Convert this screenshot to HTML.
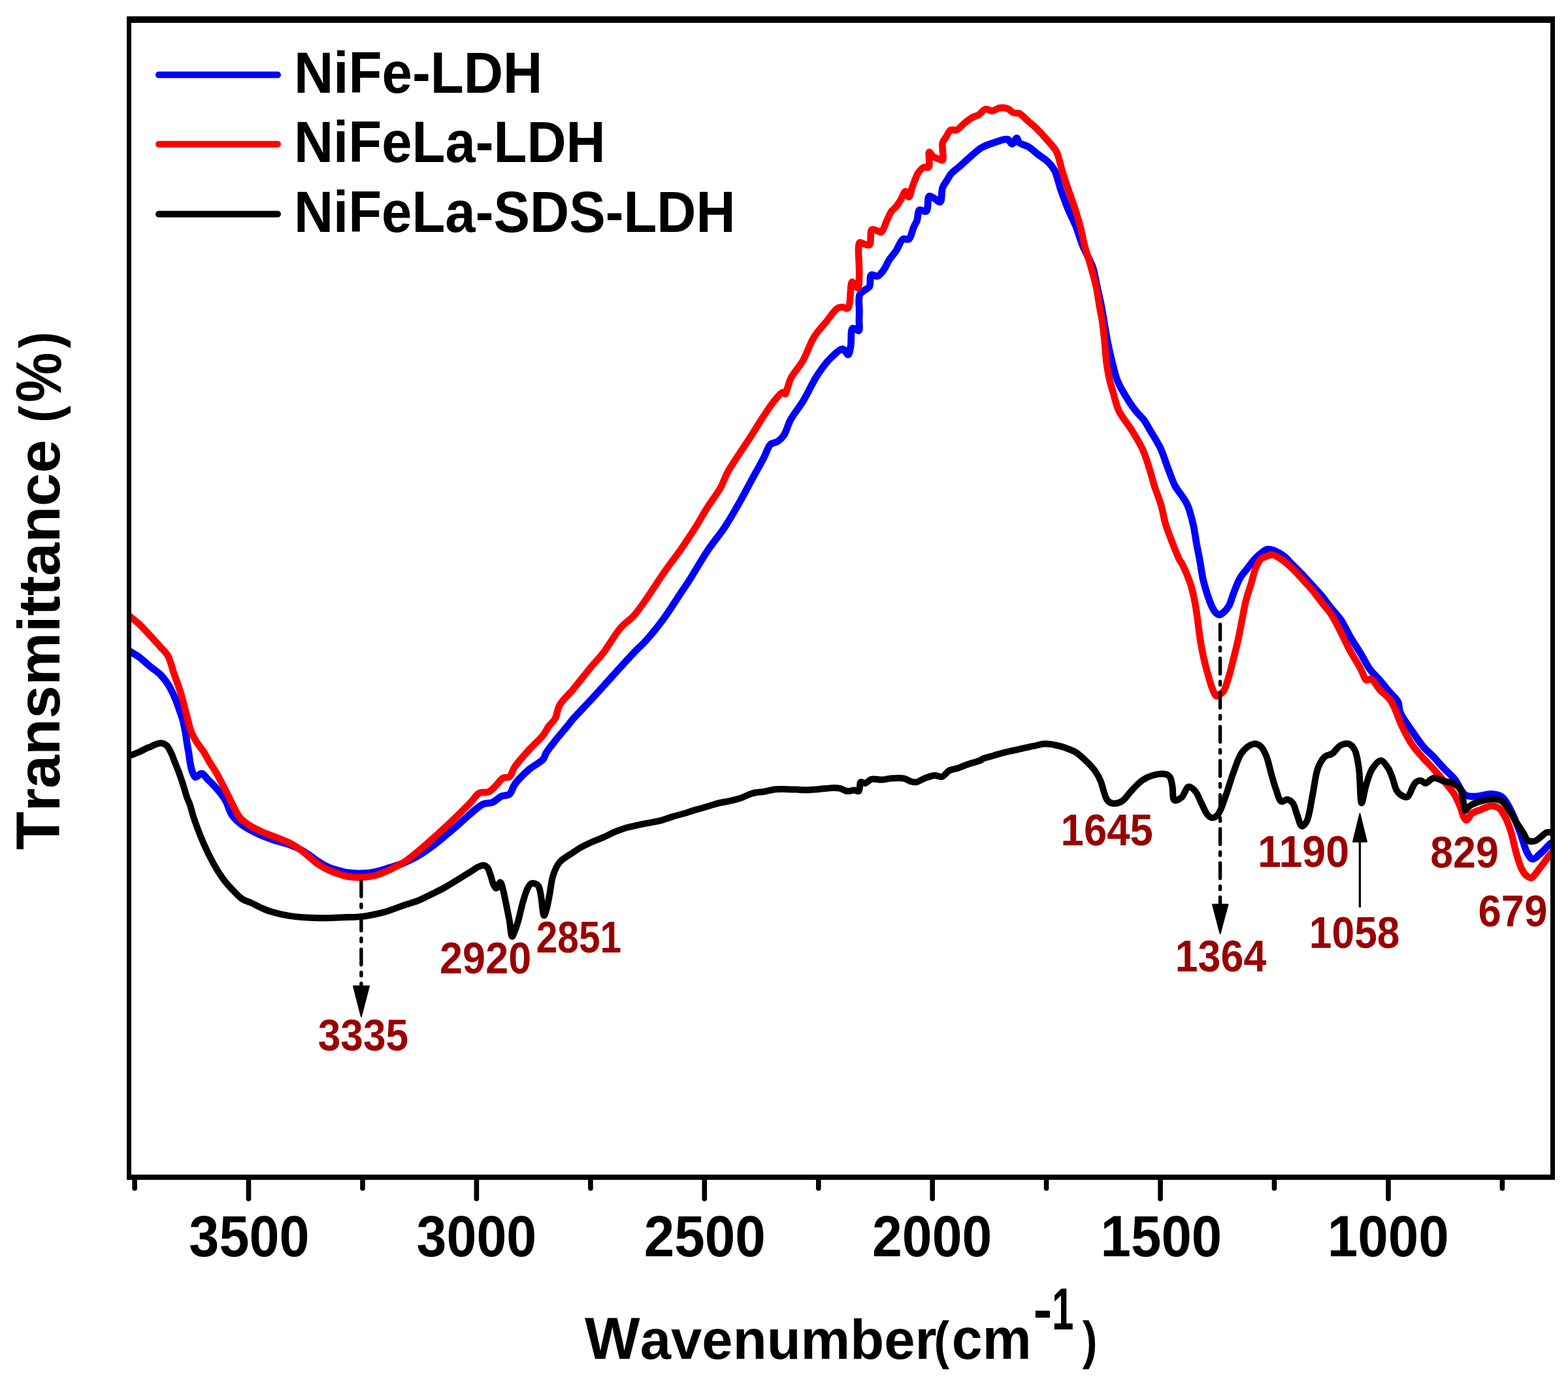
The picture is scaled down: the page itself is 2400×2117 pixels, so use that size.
<!DOCTYPE html>
<html><head><meta charset="utf-8"><title>FTIR spectra</title>
<style>html,body{margin:0;padding:0;background:#fff;}svg{display:block;}</style>
</head><body>
<svg width="2400" height="2117" viewBox="0 0 2400 2117">
<rect width="100%" height="100%" fill="#fff"/>
<defs><clipPath id="pc"><rect x="197" y="30" width="2180" height="1772"/></clipPath></defs>
<g clip-path="url(#pc)" fill="none" stroke-width="10" stroke-linejoin="round" stroke-linecap="round">
<path stroke="#0000ff" stroke-width="10.8" d="M198.5,996.9 C203.2,999.8 207.8,1002.2 212.6,1005.7 C218.1,1009.7 223.7,1015.2 229.3,1019.8 C234.8,1024.3 241.1,1028.2 245.9,1033.1 C250.4,1037.7 254.0,1042.4 257.6,1048.1 C261.6,1054.5 265.5,1063.0 268.4,1069.8 C270.9,1075.6 272.6,1080.9 274.5,1086.4 C276.4,1091.9 278.5,1097.4 280.0,1103.0 C281.5,1108.6 282.5,1114.1 283.6,1120.0 C284.8,1126.4 285.6,1134.0 286.6,1140.0 C287.4,1144.9 288.3,1148.9 289.0,1153.3 C289.7,1157.7 290.1,1162.2 290.9,1166.6 C291.7,1171.0 292.5,1175.9 293.9,1179.9 C295.1,1183.4 296.7,1188.8 298.6,1189.5 C299.9,1190.0 301.6,1188.3 303.0,1187.5 C304.4,1186.7 305.7,1184.9 307.0,1184.5 C308.0,1184.2 308.9,1184.0 310.0,1184.5 C311.9,1185.3 313.9,1188.6 316.6,1191.4 C320.7,1195.7 327.4,1202.1 332.1,1207.7 C336.6,1213.0 340.8,1217.8 344.5,1224.0 C348.7,1231.0 350.7,1241.4 355.4,1248.1 C359.7,1254.1 364.9,1258.5 370.9,1262.9 C377.6,1267.9 386.1,1272.2 394.2,1276.0 C402.5,1279.9 411.6,1283.2 420.0,1286.1 C427.8,1288.8 436.0,1290.6 442.7,1293.0 C448.2,1294.9 452.6,1296.6 457.4,1299.0 C462.4,1301.5 467.3,1304.8 472.1,1308.0 C477.1,1311.3 481.8,1315.3 486.8,1318.5 C491.6,1321.6 496.5,1324.7 501.5,1327.0 C506.3,1329.2 511.2,1330.6 516.1,1332.0 C521.0,1333.4 525.4,1334.7 530.8,1335.5 C537.4,1336.5 545.5,1337.2 552.8,1337.0 C560.1,1336.8 567.5,1336.0 574.8,1334.5 C582.2,1333.0 589.6,1330.3 596.9,1328.0 C604.3,1325.7 611.7,1323.5 618.9,1320.5 C626.1,1317.5 633.2,1313.9 640.0,1310.0 C646.9,1306.0 653.4,1301.5 660.0,1296.7 C666.8,1291.8 673.4,1286.2 680.0,1280.7 C686.7,1275.2 693.3,1269.5 699.9,1263.7 C706.6,1257.8 713.1,1251.4 719.9,1245.8 C726.4,1240.4 733.4,1233.6 739.8,1230.8 C744.6,1228.7 749.3,1230.0 753.8,1228.2 C758.7,1226.2 763.1,1220.9 767.8,1218.8 C771.8,1217.0 776.6,1218.3 779.8,1215.8 C783.6,1212.9 784.0,1206.0 787.8,1200.8 C793.0,1193.6 802.1,1184.6 809.7,1177.9 C816.8,1171.7 827.6,1167.0 831.7,1161.9 C834.2,1158.8 833.7,1156.3 835.7,1152.9 C838.8,1147.6 844.5,1140.6 849.7,1134.0 C855.7,1126.4 864.8,1115.9 869.6,1110.0 C872.3,1106.6 873.0,1105.4 875.9,1102.0 C881.7,1095.2 893.7,1083.0 903.2,1072.7 C913.8,1061.2 925.4,1048.2 936.5,1036.0 C947.6,1023.8 960.0,1009.8 969.8,999.5 C977.2,991.7 982.8,987.2 989.7,979.5 C998.2,970.0 1007.8,958.0 1016.4,946.2 C1025.6,933.7 1035.7,917.3 1043.0,906.3 C1048.2,898.5 1051.2,894.3 1056.3,886.3 C1063.7,874.7 1073.8,856.7 1083.0,843.0 C1091.6,830.1 1101.6,818.5 1109.6,806.4 C1117.0,795.2 1123.1,784.5 1129.6,773.1 C1136.4,761.3 1142.9,748.7 1149.5,736.5 C1156.2,724.3 1164.0,710.3 1169.5,699.9 C1173.5,692.3 1175.2,683.9 1179.5,680.0 C1182.5,677.3 1186.7,678.1 1190.0,676.0 C1193.6,673.6 1197.0,670.4 1200.0,666.0 C1204.0,660.1 1205.6,650.7 1210.0,642.7 C1215.2,633.1 1223.6,623.4 1230.0,612.7 C1236.9,601.2 1242.9,587.0 1250.0,576.0 C1256.3,566.2 1262.8,556.7 1270.0,549.5 C1276.3,543.3 1284.9,534.1 1290.0,534.5 C1293.5,534.8 1296.2,543.3 1298.2,542.8 C1300.3,542.3 1301.0,535.1 1302.0,530.0 C1303.5,522.7 1301.8,505.0 1304.8,502.8 C1306.1,501.9 1308.4,503.4 1310.0,504.0 C1311.6,504.6 1313.5,506.8 1314.5,506.2 C1316.3,505.1 1314.9,495.0 1315.0,490.0 C1315.1,485.6 1315.2,482.7 1315.3,477.8 C1315.5,470.6 1313.3,456.8 1315.9,451.1 C1317.5,447.5 1321.1,446.1 1323.7,444.0 C1326.1,442.0 1329.1,441.5 1330.8,438.7 C1333.1,434.8 1330.6,423.1 1333.5,421.0 C1335.7,419.4 1340.3,423.6 1343.3,422.7 C1346.6,421.7 1349.4,417.5 1352.1,413.9 C1355.4,409.5 1357.7,403.0 1361.0,397.9 C1364.2,392.9 1368.3,388.8 1371.7,383.7 C1375.4,378.2 1378.2,368.2 1382.3,365.9 C1385.0,364.4 1388.8,367.5 1391.2,365.9 C1394.7,363.5 1396.0,353.3 1398.3,348.2 C1400.1,344.1 1402.2,341.5 1403.6,337.5 C1405.3,332.8 1404.3,323.5 1407.2,321.5 C1409.6,319.9 1415.3,325.0 1417.8,323.3 C1421.5,320.7 1419.0,301.9 1422.3,300.2 C1424.3,299.2 1427.5,302.4 1430.2,303.8 C1433.1,305.3 1437.0,310.1 1439.1,309.1 C1442.1,307.7 1440.6,293.8 1442.7,287.8 C1444.4,282.9 1447.4,279.3 1449.8,275.4 C1452.1,271.7 1454.0,267.9 1456.9,264.7 C1459.9,261.4 1463.5,259.3 1467.5,255.9 C1472.7,251.4 1479.3,245.0 1485.3,239.9 C1491.1,234.9 1496.8,229.3 1503.0,225.7 C1508.7,222.4 1514.5,220.6 1520.8,218.6 C1527.5,216.4 1537.1,211.9 1542.1,213.3 C1545.4,214.2 1546.9,220.5 1549.2,220.4 C1551.6,220.3 1554.4,211.3 1556.3,211.5 C1557.9,211.6 1557.9,216.4 1560.0,218.4 C1563.0,221.2 1569.8,222.1 1574.4,224.9 C1579.4,228.0 1584.0,232.7 1588.8,236.4 C1593.6,240.1 1599.1,243.1 1603.3,247.2 C1607.5,251.3 1611.0,255.2 1614.1,260.9 C1618.1,268.5 1620.1,280.2 1623.4,289.8 C1626.8,299.4 1630.3,309.1 1634.2,318.6 C1638.2,328.3 1643.3,337.7 1647.2,347.4 C1651.0,356.9 1653.3,366.5 1657.3,376.3 C1661.6,386.9 1668.8,398.1 1672.5,408.8 C1675.8,418.5 1676.8,428.1 1679.0,437.7 C1681.1,447.3 1683.5,456.9 1685.4,466.5 C1687.3,476.1 1688.8,485.8 1690.5,495.4 C1692.2,505.0 1693.6,514.6 1695.5,524.2 C1697.4,533.8 1699.6,543.4 1702.0,553.0 C1704.4,562.7 1707.0,574.0 1710.0,581.9 C1712.2,587.7 1713.9,590.6 1717.1,596.3 C1722.1,605.1 1731.7,620.3 1738.2,628.8 C1742.8,634.8 1747.5,638.2 1751.2,643.2 C1754.6,647.9 1756.5,652.0 1759.8,657.7 C1764.5,665.7 1771.8,676.7 1776.4,686.5 C1780.8,695.9 1783.5,705.7 1787.2,715.3 C1790.9,724.9 1794.5,736.3 1798.7,744.1 C1801.9,750.0 1805.6,753.7 1808.8,758.6 C1811.9,763.4 1814.9,767.2 1817.5,773.0 C1820.9,780.8 1823.8,792.1 1826.1,801.8 C1828.4,811.3 1829.5,821.3 1831.2,830.6 C1832.8,839.5 1834.7,848.4 1836.2,856.6 C1837.5,864.0 1838.8,872.5 1839.7,877.7 C1840.2,880.8 1840.3,881.9 1841.0,885.0 C1842.2,890.3 1844.6,899.4 1846.9,906.5 C1849.2,913.7 1852.2,922.6 1854.8,928.1 C1856.5,931.8 1857.9,934.8 1860.0,937.0 C1861.8,938.9 1864.2,941.0 1866.3,941.1 C1868.2,941.2 1870.0,939.6 1872.0,938.0 C1874.8,935.8 1878.2,932.3 1880.7,928.1 C1884.0,922.5 1885.8,913.7 1888.7,906.5 C1891.6,899.3 1894.3,891.2 1898.0,884.9 C1901.2,879.4 1905.2,875.3 1908.9,870.5 C1912.7,865.7 1916.6,860.1 1920.4,856.0 C1923.6,852.5 1926.6,849.5 1930.0,847.0 C1933.3,844.6 1936.3,841.3 1940.5,840.9 C1946.4,840.4 1956.2,845.2 1962.5,849.2 C1968.4,852.9 1972.5,858.6 1977.4,863.4 C1982.4,868.3 1987.5,873.2 1992.4,878.4 C1997.5,883.7 2002.4,889.3 2007.4,894.8 C2012.4,900.3 2017.4,905.5 2022.3,911.3 C2027.4,917.4 2032.2,924.4 2037.3,930.7 C2042.2,936.9 2047.6,941.8 2052.3,948.7 C2057.7,956.6 2062.1,967.0 2067.2,975.7 C2072.1,984.0 2077.3,991.5 2082.2,999.6 C2087.3,1007.9 2091.8,1017.7 2097.2,1025.0 C2101.9,1031.4 2107.3,1035.8 2112.2,1041.5 C2117.2,1047.3 2122.3,1053.8 2127.1,1059.5 C2131.5,1064.7 2137.4,1069.1 2140.0,1074.5 C2142.3,1079.3 2140.6,1084.2 2142.9,1090.0 C2146.3,1098.7 2155.9,1110.9 2162.2,1120.2 C2167.7,1128.3 2172.6,1136.0 2178.3,1142.7 C2183.4,1148.8 2189.1,1153.2 2194.4,1158.8 C2199.8,1164.5 2205.0,1170.8 2210.4,1176.5 C2215.7,1182.1 2221.4,1186.4 2226.5,1192.6 C2232.2,1199.6 2236.2,1212.6 2242.6,1216.7 C2247.4,1219.8 2252.8,1219.2 2258.7,1219.2 C2265.9,1219.2 2275.6,1215.1 2282.8,1215.5 C2288.7,1215.9 2294.4,1216.9 2298.9,1220.0 C2303.7,1223.4 2306.4,1229.3 2310.2,1236.0 C2315.6,1245.6 2321.6,1261.0 2326.3,1273.0 C2330.6,1284.0 2333.3,1297.8 2337.5,1305.2 C2340.0,1309.7 2342.4,1314.5 2345.6,1314.9 C2349.2,1315.4 2354.2,1309.5 2358.4,1306.0 C2363.3,1301.9 2368.8,1294.8 2372.9,1291.5 C2375.6,1289.4 2377.6,1288.5 2380.0,1287.0"/>
<path stroke="#ff0000" stroke-width="10.6" d="M198.5,943.3 C203.2,947.2 207.8,950.5 212.6,954.9 C218.1,960.0 223.8,966.5 229.3,972.4 C234.9,978.4 241.0,985.2 245.9,990.7 C249.9,995.2 253.6,997.9 256.7,1003.2 C260.7,1010.1 262.9,1021.2 265.9,1029.8 C268.7,1037.8 271.9,1046.0 274.2,1053.1 C276.2,1059.1 277.4,1063.3 279.2,1069.8 C281.8,1079.0 285.3,1093.8 287.8,1103.0 C289.6,1109.6 290.3,1114.5 292.5,1120.0 C294.7,1125.6 298.0,1131.1 301.2,1136.3 C304.4,1141.4 308.7,1146.0 311.9,1151.0 C315.0,1155.9 317.3,1161.0 320.3,1166.0 C323.5,1171.3 326.9,1175.8 330.6,1182.1 C335.6,1190.7 342.0,1203.6 346.9,1213.2 C351.1,1221.5 355.0,1229.8 358.5,1236.5 C361.2,1241.6 362.8,1245.9 366.0,1250.0 C369.4,1254.3 373.6,1257.7 378.7,1261.3 C385.1,1265.7 394.6,1270.3 402.0,1273.7 C408.3,1276.6 413.7,1278.2 420.0,1280.7 C427.1,1283.6 436.1,1286.8 442.7,1290.1 C448.2,1292.9 452.6,1295.6 457.4,1298.9 C462.4,1302.4 467.2,1306.6 472.1,1310.6 C477.0,1314.6 481.8,1319.2 486.8,1322.7 C491.6,1326.0 496.5,1328.8 501.5,1331.2 C506.3,1333.5 511.2,1335.3 516.1,1337.0 C521.0,1338.7 525.3,1340.5 530.8,1341.5 C537.3,1342.7 545.5,1343.4 552.8,1343.2 C560.1,1343.0 567.6,1341.9 574.8,1340.0 C582.3,1338.0 589.6,1334.6 596.9,1331.2 C604.3,1327.7 611.8,1324.0 618.9,1319.4 C626.2,1314.6 633.1,1308.6 640.0,1303.0 C646.8,1297.4 653.4,1291.6 660.0,1285.7 C666.7,1279.8 673.4,1273.8 680.0,1267.7 C686.7,1261.5 693.3,1255.2 699.9,1248.8 C706.6,1242.3 713.9,1235.0 719.9,1228.8 C725.0,1223.5 728.7,1216.4 733.9,1213.8 C738.2,1211.6 743.6,1214.1 747.8,1212.2 C752.3,1210.2 756.1,1205.4 759.8,1201.8 C763.4,1198.3 766.1,1193.0 769.8,1190.9 C772.9,1189.2 777.0,1191.0 779.8,1188.9 C783.4,1186.2 784.1,1179.4 787.8,1173.9 C793.0,1166.2 802.3,1156.2 809.7,1147.9 C816.9,1139.9 826.4,1131.8 831.7,1125.0 C835.4,1120.3 836.7,1116.1 839.7,1112.0 C842.7,1107.8 847.0,1104.8 849.7,1100.0 C852.9,1094.3 852.8,1086.1 856.6,1079.4 C861.1,1071.4 869.5,1064.5 876.6,1056.0 C884.9,1046.0 894.9,1032.8 903.2,1022.8 C910.3,1014.3 916.3,1008.4 923.2,999.5 C931.7,988.5 941.0,971.3 949.8,961.2 C956.5,953.5 963.5,949.9 969.8,942.9 C976.8,935.1 982.7,926.1 989.7,916.2 C998.1,904.3 1007.4,889.2 1016.4,876.3 C1025.2,863.7 1034.9,851.4 1043.0,839.7 C1050.3,829.3 1056.5,820.0 1063.0,809.7 C1069.8,799.0 1076.2,787.1 1083.0,776.4 C1089.5,766.1 1097.6,756.0 1102.9,746.5 C1107.3,738.6 1109.0,731.7 1113.2,723.9 C1118.1,714.8 1125.0,704.8 1131.0,695.5 C1136.8,686.4 1142.9,678.0 1148.7,668.9 C1154.7,659.6 1160.5,649.7 1166.5,640.5 C1172.3,631.7 1178.3,621.9 1184.2,614.8 C1188.9,609.1 1195.1,600.9 1198.4,600.6 C1199.9,600.4 1201.0,603.3 1202.0,603.0 C1203.4,602.5 1203.9,598.2 1205.0,595.0 C1206.6,590.5 1207.8,584.3 1210.8,578.4 C1214.8,570.5 1223.0,562.3 1228.6,552.7 C1235.0,541.7 1239.7,525.9 1246.3,515.4 C1251.8,506.7 1258.1,500.5 1264.1,493.2 C1270.0,486.0 1276.5,475.2 1281.8,471.9 C1284.7,470.1 1287.3,470.0 1290.0,470.0 C1292.6,470.0 1295.7,473.3 1297.8,471.9 C1302.5,468.8 1301.0,432.4 1304.2,431.6 C1305.6,431.3 1307.3,436.5 1309.0,438.0 C1310.3,439.2 1312.1,441.0 1313.1,440.5 C1315.2,439.4 1314.7,428.3 1315.2,420.0 C1315.9,407.2 1311.7,374.2 1315.7,371.3 C1317.1,370.3 1319.0,372.5 1321.1,373.0 C1323.8,373.7 1328.5,376.4 1330.8,374.8 C1334.3,372.3 1331.0,354.1 1334.4,351.7 C1336.5,350.2 1340.7,352.8 1343.3,353.5 C1345.3,354.0 1346.9,356.0 1348.6,355.3 C1351.8,354.0 1354.7,343.1 1357.5,337.5 C1360.0,332.5 1361.9,327.1 1364.6,323.3 C1366.8,320.3 1369.5,318.9 1371.7,316.2 C1374.2,313.1 1376.5,309.3 1378.8,305.6 C1381.2,301.6 1383.7,293.2 1385.9,293.1 C1387.8,293.1 1389.6,301.7 1391.2,301.5 C1393.2,301.3 1394.4,291.5 1396.5,286.0 C1399.0,279.4 1401.8,270.0 1405.4,264.7 C1408.0,260.8 1411.2,257.2 1414.3,255.9 C1416.6,255.0 1419.8,257.4 1421.4,255.9 C1424.3,253.2 1420.2,233.5 1422.3,232.8 C1423.6,232.3 1426.0,238.1 1428.5,239.9 C1431.0,241.7 1434.7,242.5 1437.3,243.4 C1439.3,244.1 1441.5,246.1 1442.7,245.2 C1445.4,243.3 1441.0,224.9 1442.7,218.6 C1443.8,214.6 1446.1,212.8 1448.0,209.7 C1450.2,206.3 1452.1,200.7 1455.1,199.1 C1457.6,197.8 1461.0,200.2 1464.0,199.1 C1468.1,197.6 1472.2,191.7 1476.4,188.4 C1480.5,185.2 1484.9,181.6 1488.8,179.5 C1491.9,177.8 1494.7,177.8 1497.7,176.0 C1501.3,173.9 1504.6,168.0 1508.4,167.1 C1511.8,166.3 1515.5,170.1 1519.0,169.8 C1522.6,169.5 1525.9,165.9 1529.7,165.3 C1533.6,164.7 1538.5,164.9 1542.1,166.2 C1545.5,167.4 1547.9,171.2 1551.0,172.4 C1553.9,173.5 1556.9,172.3 1560.0,173.7 C1564.5,175.7 1569.6,181.8 1574.4,186.0 C1579.2,190.2 1584.1,194.2 1588.8,198.9 C1593.8,203.8 1598.6,209.3 1603.3,214.8 C1608.0,220.4 1613.4,225.2 1617.0,232.1 C1621.2,240.2 1622.6,251.3 1625.6,260.9 C1628.6,270.5 1631.8,280.2 1635.0,289.8 C1638.3,299.4 1642.0,309.0 1645.1,318.6 C1648.2,328.2 1651.2,337.7 1653.7,347.4 C1656.2,357.0 1657.7,366.7 1660.2,376.3 C1662.7,386.0 1666.1,395.2 1668.9,405.1 C1671.9,415.6 1675.2,427.1 1677.5,437.7 C1679.7,447.5 1680.8,456.9 1682.5,466.5 C1684.2,476.1 1686.2,485.8 1687.6,495.4 C1689.0,505.0 1689.8,514.6 1690.8,524.2 C1691.8,533.8 1692.1,543.4 1693.4,553.0 C1694.7,562.7 1696.5,573.4 1698.4,581.9 C1700.0,588.7 1701.6,593.3 1703.6,600.0 C1706.1,608.5 1708.1,619.5 1712.5,628.8 C1717.2,638.8 1725.7,648.0 1731.7,657.7 C1737.6,667.2 1743.7,676.7 1748.3,686.5 C1752.7,695.9 1755.6,705.6 1758.7,715.3 C1761.8,724.8 1764.0,734.5 1767.0,744.1 C1770.1,753.8 1774.3,763.3 1777.1,773.0 C1779.9,782.5 1781.1,792.3 1783.9,801.8 C1786.8,811.5 1790.8,821.3 1794.4,830.6 C1797.9,839.5 1802.2,850.8 1805.2,856.6 C1806.8,859.7 1807.8,860.2 1809.4,863.3 C1812.6,869.5 1818.3,882.4 1821.6,892.1 C1824.8,901.6 1826.9,911.2 1828.8,920.9 C1830.7,930.5 1831.8,940.2 1833.2,949.8 C1834.6,959.4 1835.5,969.0 1837.0,978.6 C1838.6,988.2 1840.3,997.9 1842.5,1007.5 C1844.7,1017.1 1847.5,1027.8 1850.0,1036.3 C1852.0,1043.2 1853.7,1049.8 1856.0,1055.0 C1857.8,1059.1 1859.7,1064.8 1862.0,1065.5 C1863.5,1066.0 1865.3,1064.1 1867.0,1063.0 C1868.9,1061.7 1871.0,1060.5 1872.8,1057.9 C1875.9,1053.4 1878.3,1044.1 1880.7,1036.3 C1883.5,1027.5 1885.8,1017.1 1888.2,1007.5 C1890.6,997.9 1893.1,988.2 1895.2,978.6 C1897.3,969.0 1899.0,959.4 1900.9,949.8 C1902.8,940.2 1904.3,930.5 1906.7,920.9 C1909.1,911.2 1912.7,901.0 1915.4,892.1 C1917.7,884.4 1919.1,876.9 1921.8,870.5 C1924.1,865.0 1926.3,859.3 1929.8,856.0 C1932.7,853.3 1936.8,852.2 1940.0,851.0 C1942.6,850.1 1944.6,848.9 1947.5,849.2 C1951.7,849.7 1957.7,853.8 1962.5,857.0 C1967.7,860.5 1972.5,865.1 1977.4,869.7 C1982.5,874.5 1987.4,880.1 1992.4,885.4 C1997.4,890.8 2002.5,896.1 2007.4,901.9 C2012.5,908.0 2017.3,914.9 2022.3,921.3 C2027.3,927.6 2032.7,933.1 2037.3,940.0 C2042.3,947.5 2046.3,956.0 2050.8,964.7 C2055.7,974.2 2060.4,984.8 2065.7,994.7 C2071.1,1004.8 2079.1,1016.9 2083.0,1024.6 C2085.3,1029.2 2086.4,1033.0 2088.0,1036.0 C2089.1,1038.1 2089.6,1040.3 2091.2,1041.0 C2093.0,1041.8 2096.1,1038.7 2098.7,1039.6 C2103.0,1041.2 2107.4,1050.9 2112.2,1056.0 C2116.9,1061.1 2123.2,1065.2 2127.1,1070.3 C2130.6,1074.9 2132.3,1079.3 2135.0,1085.0 C2138.6,1092.6 2141.7,1103.1 2146.1,1112.2 C2150.7,1121.8 2156.4,1132.7 2162.2,1141.1 C2167.2,1148.4 2172.8,1154.3 2178.3,1160.4 C2183.6,1166.3 2189.1,1171.5 2194.4,1177.3 C2199.8,1183.3 2205.1,1189.4 2210.4,1195.8 C2215.9,1202.5 2222.1,1209.4 2226.5,1216.7 C2230.6,1223.5 2233.8,1231.8 2236.2,1238.0 C2237.9,1242.5 2238.4,1246.9 2240.0,1250.0 C2241.2,1252.3 2242.8,1255.3 2244.2,1255.4 C2245.4,1255.5 2246.8,1253.4 2248.0,1252.0 C2249.5,1250.3 2250.1,1247.5 2252.3,1245.7 C2255.5,1243.0 2261.7,1241.3 2266.7,1239.3 C2271.9,1237.2 2277.9,1233.7 2282.8,1233.6 C2286.9,1233.5 2290.8,1234.6 2294.1,1236.9 C2298.0,1239.7 2300.8,1245.2 2303.7,1250.5 C2307.2,1256.9 2310.0,1264.7 2312.6,1273.0 C2315.7,1282.7 2317.7,1295.3 2320.6,1305.2 C2323.1,1313.9 2325.6,1323.1 2328.7,1329.4 C2330.9,1333.8 2333.1,1337.6 2336.0,1340.0 C2338.4,1342.0 2341.6,1344.2 2344.0,1343.8 C2346.3,1343.4 2348.2,1340.1 2350.0,1338.0 C2351.9,1335.8 2353.3,1333.6 2355.2,1331.0 C2357.6,1327.8 2360.5,1324.2 2363.3,1320.5 C2366.4,1316.4 2369.7,1310.9 2372.9,1307.6 C2375.3,1305.2 2377.6,1303.9 2380.0,1302.0"/>
<path stroke="#000" d="M201.0,1155.9 C204.9,1154.4 208.6,1153.1 212.6,1151.3 C216.9,1149.4 222.8,1145.9 226.0,1144.6 C227.7,1143.9 228.5,1143.9 230.0,1143.3 C232.0,1142.5 234.2,1140.9 236.7,1140.0 C239.6,1138.9 243.5,1137.4 246.6,1137.6 C249.6,1137.8 252.6,1138.9 255.0,1141.0 C258.0,1143.6 260.2,1149.0 262.3,1153.3 C264.4,1157.6 265.8,1162.2 267.6,1166.6 C269.4,1171.0 271.2,1175.5 272.9,1179.9 C274.6,1184.3 276.1,1188.8 277.6,1193.2 C279.1,1197.6 280.5,1202.1 281.9,1206.5 C283.3,1210.9 284.4,1215.4 285.9,1219.8 C287.5,1224.3 289.6,1228.4 291.2,1233.1 C293.0,1238.4 293.7,1243.2 296.0,1250.0 C299.5,1260.7 306.1,1278.2 311.5,1290.8 C316.3,1302.0 321.4,1312.4 326.7,1321.9 C331.4,1330.4 336.4,1338.4 341.4,1345.2 C345.7,1351.1 349.8,1355.7 354.6,1360.7 C359.6,1366.0 365.4,1372.6 370.9,1376.2 C375.2,1379.1 379.6,1379.8 384.0,1381.8 C388.6,1383.9 393.2,1386.6 398.0,1388.8 C403.0,1391.0 407.4,1393.1 413.4,1395.0 C421.5,1397.6 431.9,1400.2 442.7,1401.9 C455.8,1403.9 472.1,1404.9 486.8,1405.3 C501.5,1405.7 518.7,1404.5 530.8,1404.1 C539.4,1403.8 544.6,1404.1 552.8,1403.1 C563.5,1401.8 578.0,1398.9 589.5,1395.8 C599.9,1392.9 609.9,1388.5 618.9,1385.5 C626.5,1382.9 633.1,1381.4 640.0,1378.6 C646.8,1375.9 653.3,1372.3 660.0,1369.0 C666.7,1365.7 673.4,1362.6 680.0,1359.0 C686.7,1355.3 693.3,1351.1 699.9,1347.0 C706.6,1342.9 714.1,1338.2 719.9,1334.6 C724.4,1331.8 728.3,1328.7 732.0,1327.0 C734.8,1325.7 737.4,1324.4 739.8,1324.6 C742.0,1324.8 744.3,1326.1 746.0,1328.0 C748.3,1330.5 749.3,1335.6 750.8,1339.6 C752.4,1343.9 753.2,1349.4 755.0,1353.0 C756.4,1355.7 758.1,1359.6 759.8,1359.6 C761.7,1359.6 764.1,1350.4 765.8,1350.6 C767.6,1350.8 768.8,1357.7 770.0,1362.0 C771.5,1367.2 772.4,1373.0 773.8,1379.6 C775.6,1388.2 778.1,1400.1 779.8,1409.5 C781.3,1417.9 781.9,1433.2 783.8,1433.5 C785.0,1433.7 786.6,1428.3 788.0,1425.0 C789.8,1420.7 791.4,1415.5 793.2,1409.5 C795.6,1401.2 798.0,1388.5 800.7,1379.6 C802.9,1372.2 805.1,1364.4 807.7,1359.6 C809.4,1356.5 810.9,1353.6 813.0,1352.6 C814.7,1351.8 816.9,1352.1 818.7,1352.6 C820.6,1353.2 822.6,1354.1 824.0,1356.0 C826.1,1358.8 826.5,1364.1 827.7,1369.6 C829.5,1378.0 830.6,1401.3 832.7,1401.5 C834.0,1401.6 835.7,1394.4 837.0,1390.0 C838.6,1384.2 839.7,1377.1 841.1,1369.6 C842.9,1360.6 843.7,1348.4 846.7,1339.6 C849.2,1332.1 852.4,1324.8 856.7,1319.6 C860.3,1315.2 865.5,1312.6 869.6,1309.7 C873.2,1307.2 876.8,1305.2 880.0,1303.1 C882.7,1301.3 884.5,1299.8 887.6,1298.0 C892.2,1295.3 899.3,1291.9 905.2,1289.2 C911.0,1286.6 917.0,1284.7 922.8,1282.1 C928.7,1279.5 934.5,1276.2 940.4,1273.7 C946.2,1271.2 952.2,1269.0 958.1,1267.2 C963.9,1265.5 969.8,1264.4 975.7,1263.1 C981.6,1261.8 987.4,1260.8 993.3,1259.6 C999.2,1258.4 1005.1,1257.6 1010.9,1256.1 C1016.8,1254.6 1022.6,1252.2 1028.5,1250.4 C1034.3,1248.6 1040.2,1247.2 1046.1,1245.5 C1052.0,1243.7 1057.8,1241.7 1063.7,1239.9 C1069.6,1238.2 1075.4,1236.7 1081.3,1235.0 C1087.2,1233.3 1093.1,1231.2 1099.0,1229.7 C1104.8,1228.2 1110.8,1227.5 1116.6,1226.1 C1122.5,1224.7 1128.4,1223.3 1134.2,1221.4 C1140.1,1219.4 1145.8,1215.9 1151.8,1214.3 C1157.6,1212.7 1163.5,1212.7 1169.4,1211.7 C1175.3,1210.7 1181.1,1208.8 1187.0,1208.2 C1192.8,1207.6 1198.9,1208.1 1204.6,1208.2 C1209.9,1208.3 1215.0,1208.4 1220.0,1208.6 C1224.7,1208.8 1228.7,1209.3 1233.7,1209.3 C1239.8,1209.2 1247.2,1208.4 1254.2,1207.9 C1261.7,1207.3 1271.7,1205.8 1277.5,1205.9 C1281.0,1205.9 1282.9,1206.1 1285.8,1206.8 C1289.2,1207.6 1293.0,1210.6 1296.7,1211.0 C1300.3,1211.4 1304.5,1209.5 1307.7,1209.6 C1310.2,1209.7 1312.9,1212.1 1314.5,1211.0 C1316.8,1209.5 1315.2,1198.3 1317.5,1197.0 C1319.1,1196.1 1321.8,1199.3 1324.1,1199.0 C1327.1,1198.6 1329.9,1193.9 1333.7,1192.9 C1338.3,1191.7 1344.9,1193.9 1350.1,1193.6 C1354.9,1193.3 1358.8,1191.8 1363.8,1191.5 C1370.0,1191.1 1379.2,1190.6 1384.4,1191.8 C1387.9,1192.6 1389.7,1194.7 1392.6,1195.6 C1395.6,1196.5 1398.8,1197.7 1402.2,1197.3 C1406.4,1196.8 1411.2,1192.8 1415.9,1191.1 C1420.7,1189.4 1426.4,1187.2 1431.0,1187.0 C1434.9,1186.8 1438.5,1189.9 1441.9,1189.0 C1445.8,1187.9 1448.8,1181.7 1452.9,1179.5 C1457.0,1177.3 1462.1,1177.3 1466.6,1175.8 C1471.2,1174.3 1475.3,1172.1 1480.3,1170.3 C1486.2,1168.2 1495.5,1166.1 1500.0,1164.1 C1502.5,1163.0 1503.3,1161.9 1505.7,1160.9 C1509.5,1159.3 1516.1,1158.0 1521.3,1156.5 C1526.5,1155.0 1531.7,1153.2 1537.0,1151.8 C1542.2,1150.5 1547.4,1149.6 1552.6,1148.4 C1557.8,1147.2 1563.1,1145.9 1568.3,1144.8 C1573.5,1143.7 1578.7,1142.6 1583.9,1141.6 C1589.1,1140.5 1594.4,1138.7 1599.6,1138.5 C1604.8,1138.3 1610.0,1139.5 1615.2,1140.5 C1620.5,1141.6 1625.7,1143.0 1630.9,1144.8 C1636.2,1146.6 1641.6,1148.4 1646.6,1151.5 C1652.1,1154.9 1657.3,1160.0 1662.2,1164.8 C1667.2,1169.6 1672.4,1175.0 1676.3,1180.4 C1679.9,1185.4 1682.7,1190.7 1684.9,1196.1 C1687.0,1201.2 1687.8,1206.8 1689.6,1211.8 C1691.2,1216.4 1692.4,1221.9 1695.0,1225.0 C1697.1,1227.5 1699.8,1229.3 1702.9,1229.8 C1706.8,1230.4 1712.6,1229.2 1717.0,1226.6 C1722.6,1223.3 1727.4,1214.8 1732.7,1209.4 C1737.8,1204.2 1742.8,1198.3 1748.3,1194.5 C1753.3,1191.1 1758.3,1188.6 1764.0,1187.0 C1770.2,1185.3 1779.5,1183.8 1784.3,1185.1 C1787.3,1185.9 1789.3,1187.5 1791.0,1190.0 C1793.2,1193.2 1793.5,1198.8 1794.5,1203.9 C1795.7,1210.2 1794.3,1223.1 1797.5,1225.0 C1799.9,1226.4 1805.2,1223.3 1808.5,1220.6 C1812.7,1217.2 1815.3,1205.2 1819.3,1204.4 C1822.6,1203.8 1827.1,1208.5 1830.1,1212.0 C1833.8,1216.3 1835.6,1223.3 1838.7,1229.2 C1842.0,1235.5 1845.7,1244.9 1849.4,1248.5 C1851.5,1250.5 1853.6,1251.9 1855.9,1251.8 C1858.6,1251.7 1861.9,1249.5 1864.5,1246.4 C1868.8,1241.3 1871.7,1230.1 1875.3,1220.6 C1879.6,1209.1 1883.6,1193.8 1888.2,1181.8 C1892.3,1171.0 1895.3,1159.1 1901.1,1151.7 C1905.8,1145.7 1913.0,1139.8 1918.3,1138.8 C1922.1,1138.1 1926.1,1139.7 1929.1,1142.0 C1932.8,1144.8 1935.2,1150.2 1937.7,1156.0 C1941.2,1164.0 1943.6,1176.9 1946.3,1186.1 C1948.6,1193.9 1950.2,1200.7 1952.8,1207.6 C1955.3,1214.3 1957.6,1225.4 1961.4,1227.0 C1963.9,1228.0 1967.2,1223.5 1970.0,1223.8 C1972.9,1224.1 1976.3,1226.4 1978.6,1229.2 C1981.7,1233.0 1982.8,1240.6 1985.1,1246.4 C1987.5,1252.4 1989.6,1264.1 1992.6,1264.7 C1994.8,1265.1 1997.9,1261.1 2000.1,1257.2 C2004.3,1249.6 2006.0,1231.7 2008.8,1218.4 C2011.8,1204.4 2013.1,1186.1 2017.4,1175.3 C2020.3,1167.9 2023.9,1161.6 2028.1,1158.1 C2031.3,1155.4 2035.4,1156.1 2038.9,1153.8 C2043.3,1150.9 2047.1,1143.3 2051.8,1140.9 C2055.8,1138.9 2061.1,1137.6 2064.7,1138.8 C2068.2,1139.9 2071.0,1143.3 2073.3,1147.4 C2076.8,1153.7 2078.1,1164.4 2079.8,1175.3 C2082.1,1190.3 2081.7,1229.0 2084.1,1229.2 C2085.8,1229.3 2088.0,1211.9 2090.6,1203.3 C2093.3,1194.6 2095.7,1184.3 2100.0,1177.5 C2103.6,1171.9 2109.1,1164.2 2113.3,1164.2 C2117.2,1164.2 2121.5,1171.0 2124.4,1175.3 C2127.4,1179.6 2128.9,1184.7 2131.0,1190.0 C2133.4,1196.2 2134.9,1205.4 2138.0,1210.3 C2140.3,1213.8 2143.1,1216.4 2146.0,1218.0 C2148.5,1219.4 2151.7,1221.0 2154.1,1220.0 C2157.5,1218.5 2159.8,1209.1 2162.2,1205.0 C2164.0,1202.0 2164.8,1199.1 2167.0,1197.4 C2169.1,1195.8 2172.5,1194.7 2175.0,1195.0 C2177.4,1195.3 2179.0,1199.0 2181.5,1199.0 C2185.1,1199.0 2189.7,1191.6 2194.4,1191.0 C2199.3,1190.3 2205.0,1194.3 2210.4,1195.8 C2215.7,1197.3 2222.1,1197.3 2226.5,1199.9 C2230.6,1202.3 2234.0,1206.0 2236.2,1210.3 C2238.7,1215.1 2238.9,1222.6 2240.0,1228.0 C2241.0,1232.6 2241.2,1240.5 2242.6,1240.9 C2243.5,1241.1 2244.6,1238.3 2246.0,1237.0 C2247.7,1235.4 2249.6,1233.5 2252.3,1232.0 C2256.0,1229.9 2261.7,1227.9 2266.7,1226.4 C2271.9,1224.9 2277.4,1223.2 2282.8,1223.2 C2288.2,1223.2 2294.4,1223.6 2298.9,1226.4 C2303.7,1229.3 2306.7,1235.8 2310.2,1240.9 C2313.7,1246.0 2316.4,1251.6 2319.8,1257.0 C2323.3,1262.6 2327.7,1268.6 2331.1,1273.9 C2334.0,1278.4 2335.7,1284.6 2339.1,1286.7 C2341.8,1288.4 2345.7,1288.3 2348.8,1287.5 C2352.2,1286.6 2355.4,1283.3 2358.4,1281.1 C2361.3,1279.0 2363.8,1275.8 2366.5,1274.7 C2368.6,1273.8 2370.7,1274.3 2372.9,1273.9 C2375.2,1273.4 2377.6,1272.6 2380.0,1272.0"/>
</g>
<g stroke="#000" stroke-width="5.4" stroke-linecap="round" fill="none" stroke-dasharray="23.6 11.8 5 11.8">
<line x1="552.9" y1="1348.7" x2="552.9" y2="1508"/>
<line x1="1867.6" y1="955.6" x2="1867.6" y2="1384"/>
</g>
<g fill="#000" stroke="#000" stroke-width="2" stroke-linejoin="round">
<polygon points="541,1509.5 565,1509.5 552.9,1556"/>
<polygon points="1856,1384.5 1879.5,1384.5 1867.6,1429"/>
<polygon points="2071,1288.5 2092,1288.5 2081.4,1245.5"/>
</g>
<line x1="2081.4" y1="1288" x2="2081.4" y2="1389" stroke="#000" stroke-width="3.3"/>
<g fill="#000">
<rect x="194" y="25" width="7" height="1781"/>
<rect x="2373" y="25" width="7" height="1781"/>
<rect x="194" y="25" width="2186" height="10"/>
<rect x="194" y="1798" width="2186" height="8"/>
</g>
<g stroke="#000" stroke-width="7.6" stroke-linecap="round">
<line x1="206.1" y1="1804" x2="206.1" y2="1819"/>
<line x1="380.5" y1="1804" x2="380.5" y2="1835"/>
<line x1="555.0" y1="1804" x2="555.0" y2="1819"/>
<line x1="729.4" y1="1804" x2="729.4" y2="1835"/>
<line x1="903.9" y1="1804" x2="903.9" y2="1819"/>
<line x1="1078.3" y1="1804" x2="1078.3" y2="1835"/>
<line x1="1252.8" y1="1804" x2="1252.8" y2="1819"/>
<line x1="1427.2" y1="1804" x2="1427.2" y2="1835"/>
<line x1="1601.6" y1="1804" x2="1601.6" y2="1819"/>
<line x1="1776.1" y1="1804" x2="1776.1" y2="1835"/>
<line x1="1950.5" y1="1804" x2="1950.5" y2="1819"/>
<line x1="2125.0" y1="1804" x2="2125.0" y2="1835"/>
<line x1="2299.4" y1="1804" x2="2299.4" y2="1819"/>
</g>
<g stroke-width="10" stroke-linecap="round">
<line x1="243" y1="114.6" x2="425" y2="114.6" stroke="#0000ff"/>
<line x1="243" y1="220.8" x2="425" y2="220.8" stroke="#ff0000"/>
<line x1="243" y1="327.8" x2="425" y2="327.8" stroke="#000"/>
</g>
<g font-family="'Liberation Sans', Arial, sans-serif" font-weight="bold" font-size="100">
<text transform="matrix(0.83567 0 0 0.89257 449.89 141.51)" fill="#000">NiFe-LDH</text>
<text transform="matrix(0.83357 0 0 0.89113 449.90 248.41)" fill="#000">NiFeLa-LDH</text>
<text transform="matrix(0.83329 0 0 0.89257 449.90 354.51)" fill="#000">NiFeLa-SDS-LDH</text>
<text transform="matrix(0.82857 0 0 0.88732 289.34 1923.11)" fill="#000">3500</text>
<text transform="matrix(0.82581 0 0 0.88732 637.55 1923.11)" fill="#000">3000</text>
<text transform="matrix(0.83704 0 0 0.88732 985.69 1923.11)" fill="#000">2500</text>
<text transform="matrix(0.82407 0 0 0.88732 1335.03 1923.11)" fill="#000">2000</text>
<text transform="matrix(0.83521 0 0 0.88732 1684.49 1923.11)" fill="#000">1500</text>
<text transform="matrix(0.83615 0 0 0.88732 2031.78 1923.11)" fill="#000">1000</text>
<text transform="matrix(0.62202 0 0 0.68169 486.76 1608.32)" fill="#990000">3335</text>
<text transform="matrix(0.62963 0 0 0.68169 673.11 1490.02)" fill="#990000">2920</text>
<text transform="matrix(0.58618 0 0 0.68169 820.74 1457.72)" fill="#990000">2851</text>
<text transform="matrix(0.63551 0 0 0.68873 1623.59 1294.11)" fill="#990000">1645</text>
<text transform="matrix(0.62731 0 0 0.68169 1798.74 1486.92)" fill="#990000">1364</text>
<text transform="matrix(0.64638 0 0 0.68873 1925.02 1327.11)" fill="#990000">1190</text>
<text transform="matrix(0.62336 0 0 0.68873 2003.86 1450.71)" fill="#990000">1058</text>
<text transform="matrix(0.62688 0 0 0.69014 2189.22 1328.41)" fill="#990000">829</text>
<text transform="matrix(0.63438 0 0 0.69014 2262.60 1417.71)" fill="#990000">679</text>
<text transform="matrix(0.85111 0 0 0.86081 895.10 2079.94)" fill="#000"><tspan font-size="105.3">W</tspan>avenumber</text>
<text transform="matrix(0.70714 0 0 0.78830 1429.46 2079.45)" fill="#000">(</text>
<text transform="matrix(0.84222 0 0 0.88182 1456.83 2080.02)" fill="#000">cm</text>
<text transform="matrix(0.87037 0 0 0.88333 1581.59 2035.47)" fill="#000">-</text>
<text transform="matrix(0.60213 0 0 0.91014 1609.99 2034.80)" fill="#000">1</text>
<text transform="matrix(0.68621 0 0 0.78830 1656.80 2079.45)" fill="#000">)</text>
<text transform="matrix(0 -0.91435 0.90541 0 91.09 1301.11)" fill="#000"><tspan font-size="105.3">T</tspan>ransmittance</text>
<text transform="matrix(0 -0.78571 0.84681 0 89.82 646.93)" fill="#000">(</text>
<text transform="matrix(0 -0.86235 0.98592 0 93.21 616.02)" fill="#000">%</text>
<text transform="matrix(0 -0.75862 0.84681 0 89.82 533.10)" fill="#000">)</text>
</g>
</svg>
</body></html>
